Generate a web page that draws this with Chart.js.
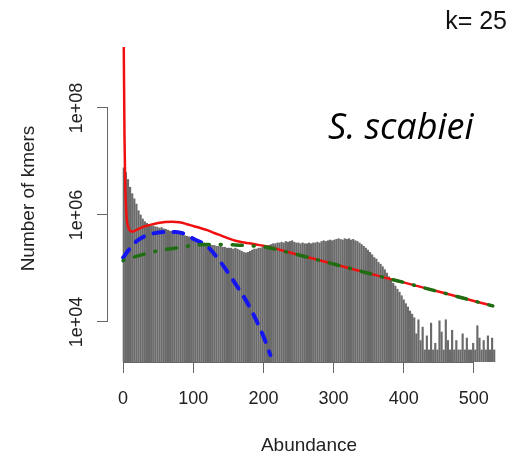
<!DOCTYPE html>
<html><head><meta charset="utf-8">
<script src="https://cdn.jsdelivr.net/npm/chart.js@4"></script>
<style>html,body{margin:0;padding:0;background:#fff;}canvas{display:block;}</style>
</head><body>
<canvas id="c" width="513" height="461"></canvas>
<script>
// ---- data ----
const abundance = [
  1,4,7,10,13,16,19,22,25,28,31,34,37,40,43,46,49,52,55,58,61,64,67,70,73,76,79,82,85,88,91,94,97,100,
  103,106,109,112,115,118,121,124,127,130,133,136,139,142,145,148,151,154,157,160,163,166,169,172,175,178,181,184,187,190,193,196,199,
  202,205,208,211,214,217,220,223,226,229,232,235,238,241,244,247,250,253,256,259,262,265,268,271,274,277,280,283,286,289,292,295,298,
  301,304,307,310,313,316,319,322,325,328,331,334,337,340,343,346,349,352,355,358,361,364,367,370,373,376,379,382,385,388,391,394,397,
  400,403,406,409,412,415,418,421,424,427,430,433,436,439,442,445,448,451,454,457,460,463,466,469,472,475,478,481,484,487,490,493,496,499,
  502,505,508,511,514,517,520,523,526,529
];
const kmerCounts = [
  7.6e6,6.2e6,4.6e6,3.3e6,2.5e6,2.0e6,1.6e6,1.2e6,1.0e6,8.4e5,7.5e5,7.0e5,6.5e5,6.2e5,6.3e5,6.0e5,5.9e5,5.7e5,5.8e5,5.5e5,5.4e5,5.2e5,5.0e5,4.9e5,4.8e5,4.6e5,4.5e5,4.4e5,4.2e5,4.1e5,4.0e5,3.9e5,3.8e5,3.8e5,
  3.6e5,3.5e5,3.3e5,3.2e5,3.0e5,2.9e5,2.9e5,2.8e5,2.7e5,2.7e5,2.6e5,2.6e5,2.6e5,2.5e5,2.5e5,2.4e5,2.4e5,2.4e5,2.3e5,2.4e5,2.3e5,2.2e5,2.1e5,2.0e5,1.95e5,2.0e5,2.1e5,2.2e5,2.3e5,2.3e5,2.4e5,2.4e5,2.5e5,
  2.5e5,2.6e5,2.7e5,2.8e5,2.9e5,2.9e5,3.0e5,3.0e5,3.1e5,3.0e5,3.2e5,3.1e5,3.2e5,3.3e5,3.1e5,3.0e5,3.0e5,2.9e5,3.0e5,2.9e5,2.9e5,3.0e5,2.9e5,3.0e5,3.0e5,3.1e5,3.0e5,3.2e5,3.3e5,3.2e5,3.3e5,3.4e5,3.3e5,
  3.4e5,3.5e5,3.6e5,3.5e5,3.4e5,3.6e5,3.5e5,3.6e5,3.4e5,3.5e5,3.3e5,3.2e5,3.0e5,2.8e5,2.6e5,2.4e5,2.2e5,2.0e5,1.8e5,1.6e5,1.5e5,1.3e5,1.2e5,1.08e5,9.5e4,8.2e4,7.0e4,6.0e4,5.3e4,4.7e4,4.1e4,3.6e4,3.1e4,
  2.6e4,2.2e4,1.9e4,1.6e4,1.4e4,1.2e4,6.0e3,1.1e4,4.5e3,8.0e3,3.0e3,5.5e3,3.0e3,9.5e3,3.0e3,4.0e3,3.0e3,1.05e4,6.5e3,3.0e3,1.1e4,4.5e3,3.0e3,7.0e3,3.0e3,4.5e3,3.0e3,3.0e3,6.0e3,3.0e3,5.0e3,3.0e3,3.0e3,4.0e3,
  3.0e3,8.5e3,5.0e3,3.0e3,4.5e3,3.0e3,5.5e3,3.0e3,5.0e3,3.0e3
];
// total model fit (red)
const fitX = [1,2,3,4,5,6,8,10,13,16,20,30,40,50,60,70,80,90,100,110,120,130,140,150,160,170,180,190,200,220,240,260,280,300,320,340,360,380,400,420,440,460,480,500,527];
const fitTotal = [1.38e9,3e7,4e6,1.5e6,9e5,7e5,5.6e5,5.1e5,4.9e5,5.0e5,5.3e5,6.1e5,6.6e5,7.1e5,7.4e5,7.5e5,7.3e5,6.8e5,6.2e5,5.7e5,5.2e5,4.6e5,4.1e5,3.65e5,3.3e5,3.1e5,2.95e5,2.8e5,2.65e5,2.3e5,1.95e5,1.66e5,1.42e5,1.21e5,1.03e5,8.8e4,7.5e4,6.4e4,5.5e4,4.67e4,3.98e4,3.4e4,2.9e4,2.47e4,2.0e4];
// first peak component (blue dashed)
const peak1X = [0,10,20,40,60,75,90,100,120,140,160,180,200,210];
const peak1Y = [1.6e5,2.4e5,3.3e5,4.4e5,4.8e5,4.8e5,4.3e5,3.6e5,2.6e5,1.26e5,5.2e4,1.95e4,5.4e3,2.4e3];
// second component (green dot-dash)
const peak2X = [0,20,50,80,100,120,140,160,180,200,220,240,260,280,300,320,340,360,380,400,420,440,460,480,500,527];
const peak2Y = [1.4e5,1.7e5,2.15e5,2.45e5,2.7e5,2.8e5,2.8e5,2.75e5,2.65e5,2.55e5,2.25e5,1.93e5,1.66e5,1.42e5,1.21e5,1.03e5,8.8e4,7.5e4,6.4e4,5.5e4,4.67e4,3.98e4,3.4e4,2.9e4,2.47e4,2.0e4];

const xTicks = [0,100,200,300,400,500];
const yTicks = [1e4,1e6,1e8];
const yTickLabels = ['1e+04','1e+06','1e+08'];
const xTitle = 'Abundance';
const yTitle = 'Number of kmers';
const kLabel = 'k= 25';
const species = 'S. scabiei';

const toXY = (xs, ys) => xs.map((x, i) => ({x: x, y: ys[i]}));
const FONT = '"Liberation Sans", Arial, sans-serif';
const AXIS_COL = '#666';

const annot = {
  id: 'annot',
  afterDraw(chart) {
    const ctx = chart.ctx, xs = chart.scales.x, ys = chart.scales.y, ca = chart.chartArea;
    ctx.save();
    ctx.strokeStyle = AXIS_COL; ctx.lineWidth = 1;
    ctx.beginPath();
    const yb = Math.round(ca.bottom) + 0.5;
    ctx.moveTo(xs.getPixelForValue(xTicks[0]), yb);
    ctx.lineTo(xs.getPixelForValue(xTicks[xTicks.length - 1]), yb);
    const xl = Math.round(ca.left) - 0.5;
    ctx.moveTo(xl, ys.getPixelForValue(yTicks[0]));
    ctx.lineTo(xl, ys.getPixelForValue(yTicks[yTicks.length - 1]));
    ctx.stroke();
    ctx.fillStyle = '#222';
    ctx.font = '18px ' + FONT;
    ctx.textAlign = 'center'; ctx.textBaseline = 'alphabetic';
    yTicks.forEach((v, i) => {
      ctx.save();
      ctx.translate(82, ys.getPixelForValue(v));
      ctx.rotate(-Math.PI / 2);
      ctx.fillText(yTickLabels[i], 0, 0);
      ctx.restore();
    });
    ctx.fillStyle = '#111';
    ctx.font = '25px ' + FONT;
    ctx.textAlign = 'right';
    ctx.fillText(kLabel, 507, 29);
    ctx.font = 'italic 36px "Open Sans", sans-serif';
    ctx.textAlign = 'left';
    ctx.fillStyle = '#000';
    ctx.fillText(species, 328, 139);
    ctx.restore();
  }
};

new Chart(document.getElementById('c'), {
  type: 'bar',
  data: {
    datasets: [
      {type: 'line', data: toXY(peak2X, peak2Y), borderColor: '#1f6e12', borderWidth: 3.5,
       borderDash: [1, 11, 10, 11], borderCapStyle: 'round', pointRadius: 0, cubicInterpolationMode: 'monotone', order: 1},
      {type: 'line', data: toXY(peak1X, peak1Y), borderColor: '#1515f0', borderWidth: 4,
       borderDash: [10, 10], borderCapStyle: 'round', pointRadius: 0, cubicInterpolationMode: 'monotone', order: 2},
      {type: 'line', data: toXY(fitX, fitTotal), borderColor: '#f01010', borderWidth: 2.5,
       pointRadius: 0, cubicInterpolationMode: 'monotone', order: 3},
      {type: 'bar', data: toXY(abundance, kmerCounts), backgroundColor: '#6a6a6a',
       barThickness: 1.5, order: 4}
    ]
  },
  options: {
    responsive: false, animation: false,
    layout: {padding: {top: 35, right: 3, left: 0, bottom: 0}},
    plugins: {legend: {display: false}, tooltip: {enabled: false}},
    scales: {
      x: {
        type: 'linear', min: -21.5, max: 551.5, offset: false,
        afterBuildTicks: (s) => { s.ticks = xTicks.map(v => ({value: v})); },
        afterFit: (s) => { s.height = 99; },
        grid: {offset: false, drawOnChartArea: false, drawTicks: true, tickLength: 11, color: AXIS_COL},
        border: {display: false},
        ticks: {font: {family: FONT, size: 18}, color: '#222', padding: 15, maxRotation: 0, autoSkip: false},
        title: {display: true, text: xTitle, font: {family: FONT, size: 19}, color: '#222', padding: {top: 0, bottom: 4}}
      },
      y: {
        type: 'logarithmic', min: 1786, max: 2.31e9,
        afterBuildTicks: (s) => { s.ticks = yTicks.map(v => ({value: v})); },
        afterFit: (s) => { s.width = 108; },
        grid: {drawOnChartArea: false, drawTicks: true, tickLength: 11, color: AXIS_COL},
        border: {display: false},
        ticks: {display: false},
        title: {display: true, text: yTitle, font: {family: FONT, size: 19}, color: '#222', padding: {top: 17, bottom: 0}}
      }
    }
  },
  plugins: [annot]
});
</script>
</body></html>
